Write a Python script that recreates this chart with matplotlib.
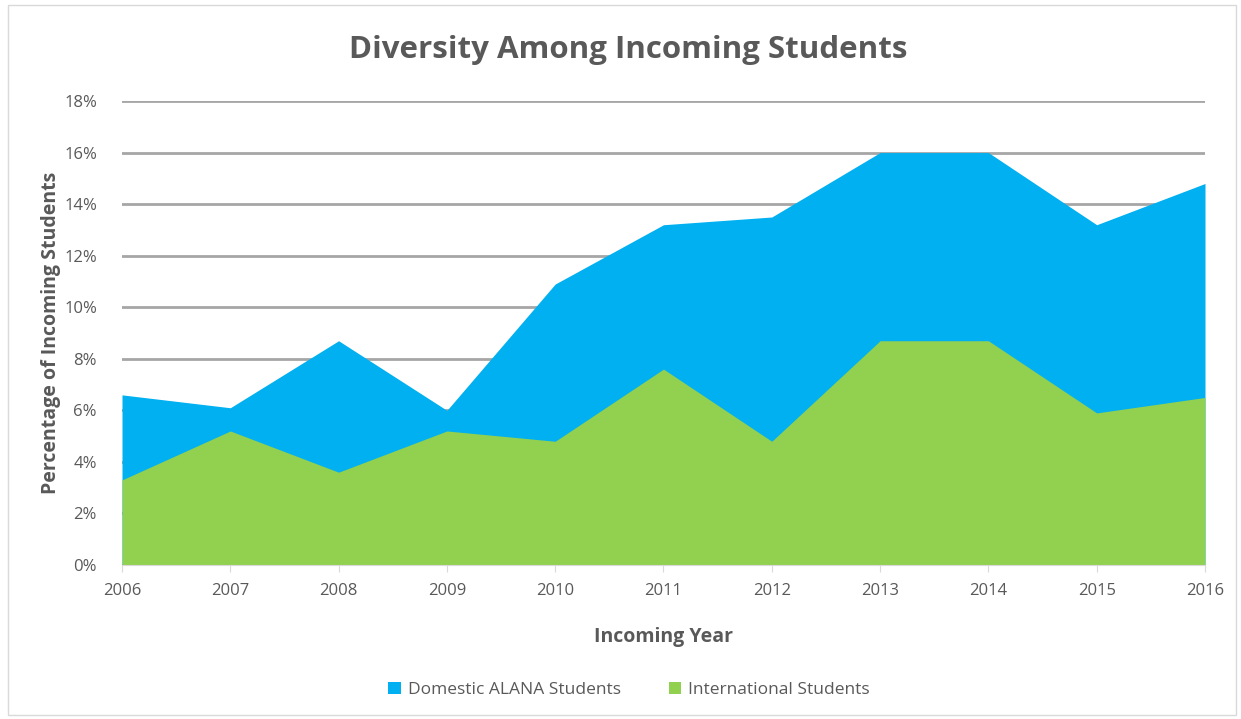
import matplotlib.pyplot as plt
from matplotlib.patches import Rectangle
from matplotlib.ticker import PercentFormatter

years = [2006, 2007, 2008, 2009, 2010, 2011, 2012, 2013, 2014, 2015, 2016]
domestic = [6.6, 6.1, 8.7, 6.0, 10.9, 13.2, 13.5, 16.0, 16.0, 13.2, 14.8]
international = [3.3, 5.2, 3.6, 5.2, 4.8, 7.6, 4.8, 8.7, 8.7, 5.9, 6.5]

BLUE = '#00B0F0'
GREEN = '#92D050'
TXT = '#595959'


def main():
    plt.rcParams['font.family'] = ['Open Sans', 'DejaVu Sans']
    fig = plt.figure(figsize=(12.41, 7.19), dpi=100)
    ax = fig.add_axes([122 / 1241, 1 - 565 / 719, (1205 - 122) / 1241, (565 - 101) / 719])

    # light frame around the whole chart
    fig.patches.append(Rectangle((8 / 1241, 4 / 719), 1228 / 1241, 710 / 719,
                                 transform=fig.transFigure, fill=False,
                                 edgecolor='#D9D9D9', linewidth=1))

    ax.fill_between(years, 0, domestic, color=BLUE, linewidth=0,
                    label='Domestic ALANA Students', zorder=2)
    ax.fill_between(years, 0, international, color=GREEN, linewidth=0,
                    label='International Students', zorder=3)

    ax.set_xlim(2006, 2016)
    ax.set_ylim(0, 18)
    ax.set_xticks(years)
    ax.set_yticks(range(0, 19, 2))
    ax.yaxis.set_major_formatter(PercentFormatter(decimals=0))
    ax.grid(axis='y', color='#A6A6A6', linewidth=2, zorder=1)
    ax.set_axisbelow(True)

    for s in ['top', 'right', 'left']:
        ax.spines[s].set_visible(False)
    ax.spines['bottom'].set_color('#D9D9D9')
    ax.spines['bottom'].set_zorder(4)
    ax.tick_params(axis='y', length=0, pad=18, labelsize=12, labelcolor=TXT)
    ax.tick_params(axis='x', length=5, color='#D9D9D9', pad=8, labelsize=12, labelcolor=TXT)

    ax.set_xlabel('Incoming Year', fontsize=14, fontweight='bold', color=TXT, labelpad=20)
    ax.set_ylabel('Percentage of Incoming Students', fontsize=14, fontweight='bold',
                  color=TXT, labelpad=2)
    fig.text(0.506, 1 - 50 / 719, 'Diversity Among Incoming Students', ha='center',
             va='center', fontsize=22.5, fontweight='bold', color=TXT)

    fig.legend(loc='center', bbox_to_anchor=(0.507, 1 - 690 / 719), ncol=2,
               frameon=False, fontsize=12.5, labelcolor=TXT, handlelength=0.7,
               handleheight=0.7, columnspacing=2.8, handletextpad=0.4)

    fig.savefig('out.png', dpi=100)


if __name__ == '__main__':
    main()
